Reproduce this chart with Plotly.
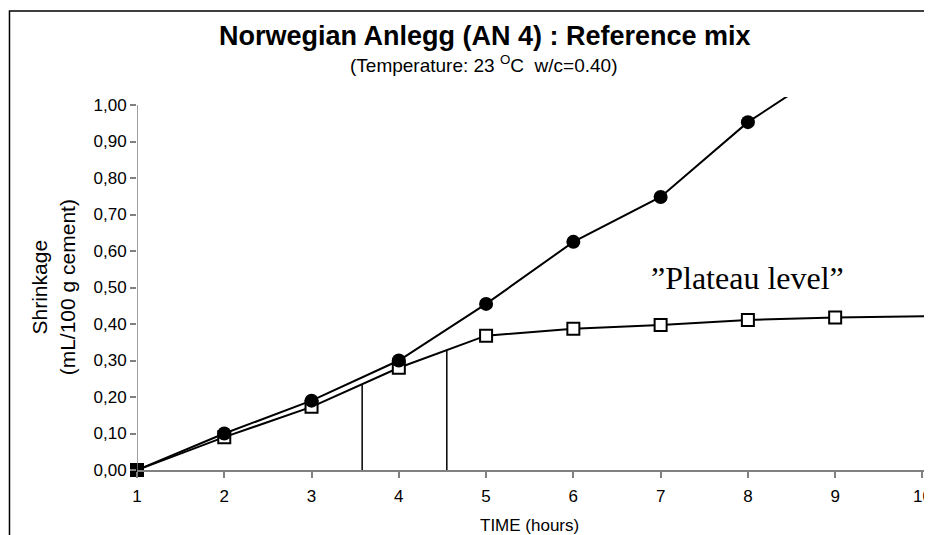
import plotly.graph_objects as go

# ---- data ----
time_h = [1, 2, 3, 4, 5, 6, 7, 8, 9]
shrink_total = [0.00, 0.10, 0.19, 0.30, 0.455, 0.625, 0.748, 0.953, 1.11]
time_sq = [1, 2, 3, 4, 5, 6, 7, 8, 9, 12]
shrink_plateau = [0.00, 0.09, 0.173, 0.28, 0.368, 0.387, 0.397, 0.411, 0.418, 0.427]
drop_x = [3.58, 4.55]
drop_top = [0.235, 0.33]
x_ticks = [1, 2, 3, 4, 5, 6, 7, 8, 9, 10]
y_ticks = [0.0, 0.1, 0.2, 0.3, 0.4, 0.5, 0.6, 0.7, 0.8, 0.9, 1.0]

FONT = "Liberation Sans, Arial, sans-serif"
OFF = 8  # page body margin
W, H = 932 - OFF, 535 - OFF
L, R, T, B = 137 - OFF, 0, 97 - OFF, 535 - 470
pw, ph = W - L - R, H - T - B
xmax = 1 + pw / 87.6
ymax = ph / 365.0


def px2paper_x(p):
    return (p - OFF - L) / pw


def px2paper_y(p):
    return (H - B - (p - OFF)) / ph


fig = go.Figure()

# drop lines
dx, dy = [], []
for xv, yv in zip(drop_x, drop_top):
    dx += [xv, xv, None]
    dy += [0, yv, None]
fig.add_trace(go.Scatter(x=dx, y=dy, mode="lines",
                         line=dict(color="black", width=1.5),
                         showlegend=False, hoverinfo="skip"))

# plateau series (open squares, first filled)
sq_colors = ["black"] + ["white"] * (len(time_sq) - 1)
fig.add_trace(go.Scatter(x=time_sq, y=shrink_plateau, mode="lines+markers",
                         line=dict(color="black", width=2),
                         marker=dict(symbol="square", size=12, color=sq_colors,
                                     line=dict(color="black", width=2)),
                         cliponaxis=False, showlegend=False))

# total series (filled circles)
fig.add_trace(go.Scatter(x=time_h, y=shrink_total, mode="lines+markers",
                         line=dict(color="black", width=2),
                         marker=dict(symbol="circle", size=14, color="black"),
                         showlegend=False))

annotations = [
    dict(text="<b>Norwegian Anlegg (AN 4) : Reference mix</b>",
         xref="paper", yref="paper", x=px2paper_x(486), y=px2paper_y(36),
         xanchor="center", yanchor="middle", showarrow=False,
         font=dict(family=FONT, size=27, color="black")),
    dict(text="(Temperature: 23 <sup>O</sup>C  w/c=0.40)",
         xref="paper", yref="paper", x=px2paper_x(485), y=px2paper_y(64),
         xanchor="center", yanchor="middle", showarrow=False,
         font=dict(family=FONT, size=19, color="black")),
    dict(text="Shrinkage<br>(mL/100 g cement)",
         xref="paper", yref="paper", x=px2paper_x(53), y=px2paper_y(287),
         xanchor="center", yanchor="middle", showarrow=False, textangle=-90,
         font=dict(family=FONT, size=21, color="black")),
    dict(text="TIME (hours)",
         xref="paper", yref="paper", x=px2paper_x(531), y=px2paper_y(525),
         xanchor="center", yanchor="middle", showarrow=False,
         font=dict(family=FONT, size=17, color="black")),
    dict(text="\u201dPlateau level\u201d",
         xref="x", yref="y", x=8, y=0.526,
         xanchor="center", yanchor="middle", showarrow=False,
         font=dict(family="Liberation Serif, Times New Roman, serif", size=32, color="black")),
]

shapes = [
    # outer frame
    dict(type="rect", xref="paper", yref="paper",
         x0=px2paper_x(9), x1=px2paper_x(960),
         y0=px2paper_y(560), y1=px2paper_y(11),
         line=dict(color="black", width=1.5), fillcolor="rgba(0,0,0,0)", layer="below"),
    # y axis line
    dict(type="line", xref="x", yref="y", x0=1, x1=1, y0=0, y1=1.0,
         line=dict(color="#808080", width=1.5)),
]

fig.update_layout(
    width=W, height=H,
    margin=dict(l=L, r=R, t=T, b=B),
    paper_bgcolor="white", plot_bgcolor="white",
    separators=", ",
    showlegend=False,
    annotations=annotations,
    shapes=shapes,
    xaxis=dict(range=[1, xmax], tickvals=x_ticks, ticks="outside", ticklen=6,
               tickcolor="#808080", tickwidth=1.5,
               showline=True, linecolor="#808080", linewidth=1.5,
               showgrid=False, zeroline=False, ticklabeloverflow="allow",
               ticklabelstandoff=4,
               tickfont=dict(family=FONT, size=17, color="black")),
    yaxis=dict(range=[0, ymax], tickvals=y_ticks, tickformat=".2f",
               ticks="outside", ticklen=6, tickcolor="#808080", tickwidth=1.5,
               showline=False, showgrid=False, zeroline=False,
               tickfont=dict(family=FONT, size=17, color="black")),
)

fig.write_html("out.html")
